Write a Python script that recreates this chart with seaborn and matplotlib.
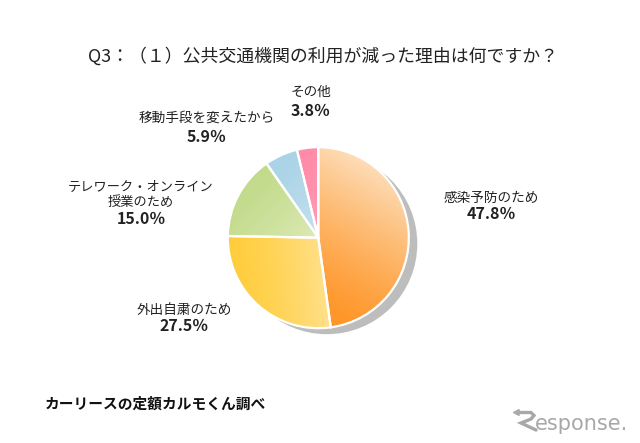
import numpy as np
import matplotlib
matplotlib.use("Agg")
import matplotlib.pyplot as plt
from matplotlib.colors import LinearSegmentedColormap
from matplotlib.patches import Circle, Wedge
import seaborn as sns

categories = ["感染予防のため", "外出自粛のため", "テレワーク・オンライン\n授業のため", "移動手段を変えたから", "その他"]
values = [47.8, 27.5, 15.0, 5.9, 3.8]
value_labels = ["47.8％", "27.5％", "15.0％", "5.9％", "3.8％"]
title = "Q3：（１）公共交通機関の利用が減った理由は何ですか？"
source = "カーリースの定額カルモくん調べ"
grad_start = ["#FF9526", "#FFCD3C", "#C2DB8B", "#A9D3E6", "#FF8BA8"]
grad_end = ["#FDDDB8", "#FFE08A", "#DDEAB8", "#C6E2EE", "#FF9DB6"]
grad_dirs = [(0.5, 0.87), (0.95, 0.1), (0.6, -0.6), (0.5, -0.6), (0.2, -0.5)]

sns.set_theme(style="white")
plt.rcParams["font.family"] = ["Noto Sans CJK JP", "DejaVu Sans"]
W, H = 640, 443
fig = plt.figure(figsize=(6.4, 4.43), dpi=100, facecolor="white")
ax = fig.add_axes([0, 0, 1, 1])
cx, cy, R = 318.3, H - 237.7, 90.5

ax.add_patch(Circle((cx + 8.5, cy - 6), R, fc="#BDBDBD", ec="none", zorder=1))
wedges, _ = ax.pie(values, startangle=90, counterclock=False, center=(cx, cy), radius=R,
                   colors=grad_end, wedgeprops=dict(edgecolor="none", linewidth=0), normalize=True)

# gradient fill clipped to every wedge
n = 300
xs = np.linspace(-1, 1, n)
gx, gy = np.meshgrid(xs, xs)
for w, c0, c1, d in zip(wedges, grad_start, grad_end, grad_dirs):
    w.set_zorder(2)
    dx, dy = np.array(d) / np.hypot(*d)
    t = gx * dx + gy * dy
    a = np.arctan2(gy, gx) % (2 * np.pi)
    t1, t2 = np.deg2rad(w.theta1) % (2 * np.pi), np.deg2rad(w.theta2) % (2 * np.pi)
    inside = (a >= t1) & (a <= t2) if t1 < t2 else (a >= t1) | (a <= t2)
    inside &= (gx**2 + gy**2) <= 1
    lo, hi = t[inside].min(), t[inside].max()
    t = np.clip((t - lo) / (hi - lo), 0, 1) ** 1.35
    cmap = LinearSegmentedColormap.from_list("g", [c0, c1])
    im = ax.imshow(t, cmap=cmap, origin="lower", extent=(cx - R, cx + R, cy - R, cy + R),
                   zorder=3, interpolation="bilinear", aspect="equal")
    im.set_clip_path(w)
    ax.add_patch(Wedge(w.center, w.r, w.theta1, w.theta2, fc="none", ec="white", lw=1.6, zorder=4))

ax.set_xlim(0, W)
ax.set_ylim(0, H)
ax.set_aspect("equal")
ax.axis("off")

ink = "#222222"
ax.text(323, H - 56, title, ha="center", va="center", fontsize=12.9, color=ink)

label_pos = [(491, 198), (184, 310), (141, 195), (207, 118), (311, 92)]
label_val = [(491, 214), (184, 326), (141, 219), (207, 137), (311, 111)]
label_size = [9.8, 9.8, 9.5, 9.8, 9.8]
for cat, val, lp, vp, fs in zip(categories, value_labels, label_pos, label_val, label_size):
    ax.text(lp[0], H - lp[1], cat, ha="center", va="center", fontsize=fs, color=ink, linespacing=1.15)
    ax.text(vp[0], H - vp[1], val, ha="center", va="center", fontsize=11.5, fontweight="bold", color=ink)

ax.text(45, H - 404, source, ha="left", va="center", fontsize=10.6, fontweight="bold", color="#111111")

# watermark
logo = "#A8A8A8"
ax.plot([518, 531, 534, 531, 521, 536], [H - 412.5, H - 412.5, H - 415.5, H - 419, H - 423, H - 430],
        color=logo, lw=2.4, solid_joinstyle="miter", zorder=6)
ax.plot([519, 514, 519], [H - 410, H - 412.5, H - 415], color=logo, lw=1.4, zorder=6)
ax.text(535, H - 424, "esponse.", ha="left", va="center", fontsize=15, color=logo, family="DejaVu Sans")

fig.savefig("out.png", dpi=100, facecolor="white")
